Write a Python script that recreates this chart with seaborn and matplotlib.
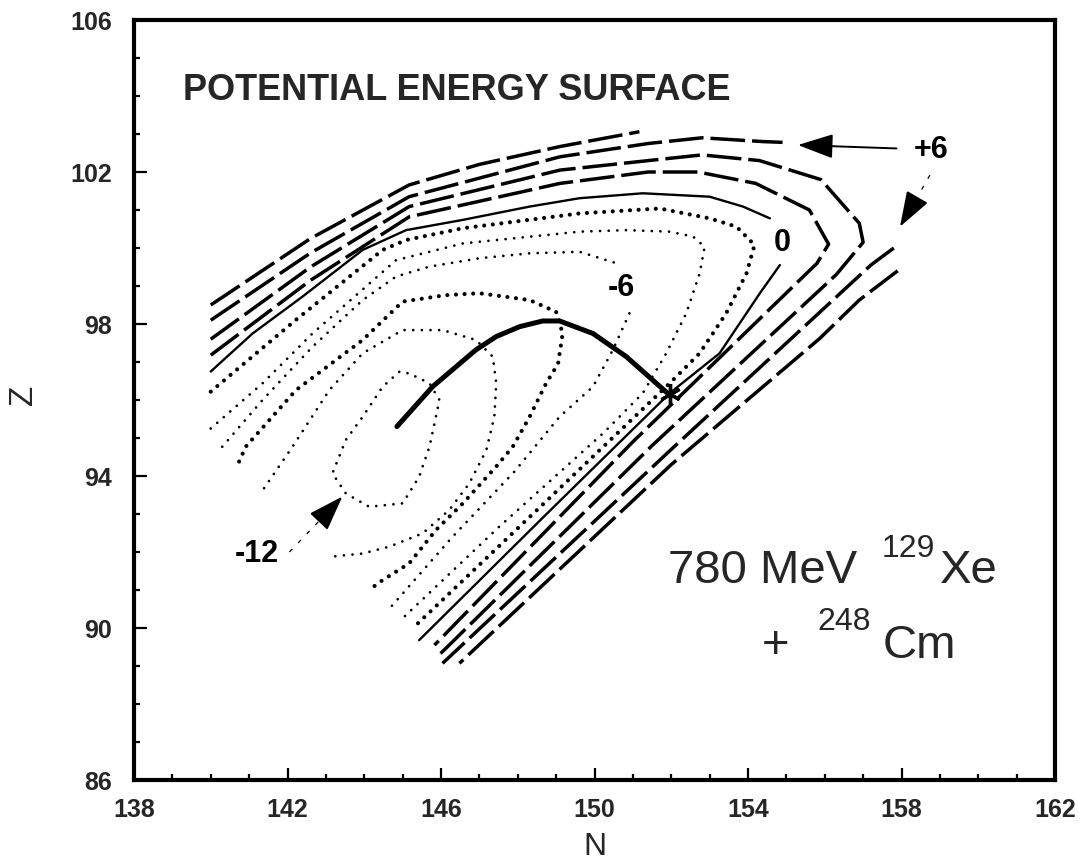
import matplotlib
matplotlib.use("Agg")
import matplotlib.pyplot as plt
import seaborn as sns
import pandas as pd

# ---------------- data (N, Z coordinates of contour lines, MeV levels)
levels = [-12, -10, -8, -6, -4, -2, 0, 2, 4, 6, 8]

n_m12 = [144.91, 144.48, 143.96, 143.52, 143.17, 143.52, 144.13, 145.00, 145.43, 145.70, 145.96, 145.70, 145.17, 144.91]
z_m12 = [96.74, 96.35, 95.56, 94.95, 94.07, 93.54, 93.19, 93.28, 93.98, 94.77, 96.00, 96.44, 96.70, 96.74]

n_m10 = [141.39, 142.13, 143.09, 143.96, 145.00, 146.04, 146.91, 147.35, 147.44, 147.39, 147.18, 146.74, 146.22, 145.52, 144.65, 143.96, 143.17]
z_m10 = [93.68, 94.77, 96.26, 97.23, 97.84, 97.84, 97.58, 97.14, 96.44, 95.56, 94.68, 93.81, 93.11, 92.49, 92.14, 91.96, 91.88]

n_m8 = [140.74, 140.91, 142.22, 143.96, 145.00, 146.13, 147.00, 148.31, 149.00, 149.17, 149.05, 148.74, 148.31, 147.87, 147.44, 146.57, 145.87, 145.17, 144.48, 144.18]
z_m8 = [94.38, 94.77, 96.26, 97.58, 98.59, 98.76, 98.81, 98.63, 98.32, 97.75, 96.95, 96.44, 95.56, 94.77, 94.25, 93.28, 92.58, 91.70, 91.26, 91.04]

n_m6a = [140.30, 141.35, 142.65, 143.96, 144.83, 145.70, 147.00, 148.31, 149.61, 150.57]
z_m6a = [94.77, 96.00, 97.40, 98.63, 99.25, 99.51, 99.73, 99.86, 99.90, 99.60]
n_m6b = [150.91, 150.48, 149.96, 149.09, 147.90, 146.30, 144.70]
z_m6b = [98.28, 97.32, 96.35, 95.56, 94.10, 92.40, 90.56]

n_m4 = [140.00, 141.35, 142.65, 144.83, 146.57, 149.61, 150.83, 151.96, 152.57, 152.87, 152.74, 152.39, 151.87, 151.26, 150.22, 147.50, 144.91]
z_m4 = [95.25, 96.44, 97.75, 99.68, 100.12, 100.43, 100.47, 100.43, 100.30, 100.03, 99.33, 98.28, 97.23, 96.18, 95.12, 92.65, 90.17]

n_m2 = [140.00, 142.22, 144.48, 145.09, 146.57, 149.61, 151.70, 153.00, 153.70, 154.17, 153.96, 153.43, 152.74, 151.96, 148.60, 145.26]
z_m2 = [96.22, 98.11, 99.95, 100.21, 100.52, 100.91, 101.04, 100.78, 100.56, 100.08, 99.33, 98.28, 97.23, 96.44, 93.20, 89.99]

n_0a = [140.00, 141.09, 142.39, 143.96, 145.09, 146.57, 148.31, 149.61, 151.26, 153.00, 153.87, 154.57]
z_0a = [96.75, 97.75, 98.72, 99.95, 100.47, 100.74, 101.09, 101.31, 101.44, 101.35, 101.09, 100.78]
n_0b = [154.83, 154.31, 153.26, 151.96, 148.70, 145.43]
z_0b = [99.55, 98.81, 97.23, 96.18, 92.95, 89.68]

n_p2 = [140.00, 142.60, 145.17, 149.10, 151.40, 152.70, 154.20, 155.60, 156.10, 155.80, 151.00, 145.83]
z_p2 = [97.18, 99.15, 100.82, 101.70, 102.00, 102.00, 101.70, 101.00, 100.10, 99.60, 94.90, 89.55]

n_p4 = [140.00, 142.60, 145.17, 149.10, 151.40, 152.80, 154.30, 155.90, 156.90, 157.00, 156.30, 151.50, 145.91]
z_p4 = [97.60, 99.50, 101.09, 102.05, 102.30, 102.45, 102.30, 101.80, 100.65, 100.15, 99.30, 94.80, 89.25]

n_p6a = [140.00, 142.60, 145.17, 149.10, 151.40, 152.80, 154.40, 154.90]
z_p6a = [98.10, 99.87, 101.35, 102.40, 102.75, 102.90, 102.80, 102.78]
n_p6b = [157.80, 157.20, 152.00, 146.04]
z_p6b = [100.00, 99.55, 94.70, 89.07]

n_p8a = [140.00, 142.60, 145.17, 147.00, 149.10, 150.00, 151.17]
z_p8a = [98.50, 100.25, 101.66, 102.20, 102.67, 102.84, 103.06]
n_p8b = [157.90, 156.90, 155.87, 152.00, 146.48]
z_p8b = [99.40, 98.63, 97.62, 94.30, 89.07]

# fission/quasi-fission trajectory and injection point
traj_n = [144.85, 145.78, 146.91, 147.44, 148.05, 148.65, 149.09, 149.96, 150.83, 151.61, 151.96]
traj_z = [95.30, 96.35, 97.32, 97.67, 97.93, 98.08, 98.08, 97.75, 97.14, 96.44, 96.13]
star_n = [151.96]
star_z = [96.15]

# contour labels: text, N, Z
label_txt = ["-12", "-6", "0", "+6"]
label_n = [141.19, 150.71, 154.90, 158.77]
label_z = [91.96, 98.95, 100.12, 102.59]

xticks = [138, 142, 146, 150, 154, 158, 162]
yticks = [86, 90, 94, 98, 102, 106]

# ---------------- assemble
contours = [
    (-12, n_m12, z_m12), (-10, n_m10, z_m10), (-8, n_m8, z_m8),
    (-6, n_m6a, z_m6a), (-6, n_m6b, z_m6b), (-4, n_m4, z_m4), (-2, n_m2, z_m2),
    (0, n_0a, z_0a), (0, n_0b, z_0b), (2, n_p2, z_p2), (4, n_p4, z_p4),
    (6, n_p6a, z_p6a), (6, n_p6b, z_p6b), (8, n_p8a, z_p8a), (8, n_p8b, z_p8b),
]
rows = []
for i, (lev, ns, zs) in enumerate(contours):
    for k, (n, z) in enumerate(zip(ns, zs)):
        rows.append(dict(N=n, Z=z, level=lev, piece=i, order=k))
df = pd.DataFrame(rows)

sns.set_theme(style="white")
plt.rcParams['font.family'] = ['Liberation Sans', 'DejaVu Sans']
plt.rcParams['lines.scale_dashes'] = False

W, H = 1082, 865
fig = plt.figure(figsize=(W / 100, H / 100), dpi=100)
L, R, T, B = 134, 1055, 20, 780
ax = fig.add_axes([L / W, (H - B) / H, (R - L) / W, (B - T) / H])


def style_for(lev):
    if lev < 0:
        if lev in (-2, -8):
            return dict(linewidth=3.0, linestyle=(0, (0.01, 6.2)), dash_capstyle='round')
        return dict(linewidth=2.0, linestyle=(0, (0.01, 6.2)), dash_capstyle='round')
    if lev == 0:
        return dict(linewidth=1.7, linestyle='-')
    return dict(linewidth=2.5, linestyle=(0, (25, 5)), dash_capstyle='butt')


for pid, sub in df.groupby("piece"):
    lev = sub["level"].iloc[0]
    sns.lineplot(data=sub, x="N", y="Z", sort=False, estimator=None, ax=ax,
                 color="black", legend=False, **style_for(lev))

# trajectory
sns.lineplot(x=traj_n, y=traj_z, sort=False, estimator=None, ax=ax, color="black",
             linewidth=3.6, solid_capstyle='round', legend=False)
sns.lineplot(x=star_n, y=star_z, ax=ax, marker=(6, 2, 0), markersize=15, mec="black",
             mew=2.4, linestyle='', color="black", legend=False)

# contour labels
for t, n, z in zip(label_txt, label_n, label_z):
    ax.text(n, z, t, fontsize=22, fontweight='bold', ha='center', va='center', color='black')

# arrows
hp = dict(arrowstyle='-|>,head_length=1.1,head_width=0.38', color='black', lw=1.4,
          shrinkA=0, shrinkB=0, mutation_scale=20)
ax.annotate('', xy=(155.30, 102.71), xytext=(157.87, 102.62), arrowprops=hp)
ax.annotate('', xy=(157.96, 100.56), xytext=(158.30, 101.15), arrowprops=hp)
ax.annotate('', xy=(143.43, 93.46), xytext=(143.00, 93.00), arrowprops=hp)
ax.plot([158.74, 158.42], [101.92, 101.35], color='black', lw=0.9, ls=(0, (3, 6)))
ax.plot([142.05, 143.0], [92.0, 93.0], color='black', lw=0.9, ls=(0, (3, 6)))

# texts
ax.text(139.28, 103.9, "POTENTIAL ENERGY SURFACE", fontsize=26, fontweight='bold',
        ha='left', va='baseline')
ax.text(151.92, 91.18, "780 MeV", fontsize=34, ha='left', va='baseline')
ax.text(157.49, 91.87, "129", fontsize=23, ha='left', va='baseline')
ax.text(159.00, 91.18, "Xe", fontsize=34, ha='left', va='baseline')
ax.text(154.37, 89.21, "+", fontsize=34, ha='left', va='baseline')
ax.text(155.80, 89.95, "248", fontsize=23, ha='left', va='baseline')
ax.text(157.52, 89.21, "Cm", fontsize=34, ha='left', va='baseline')

# axes
ax.set_xlim(138, 162)
ax.set_ylim(86, 106)
ax.set_xticks(xticks)
ax.set_yticks(yticks)
ax.set_xticks(range(138, 163), minor=True)
ax.set_yticks(range(86, 107), minor=True)
ax.set_xticklabels([str(v) for v in xticks], fontweight='bold', fontsize=18)
ax.set_yticklabels([str(v) for v in yticks], fontweight='bold', fontsize=18)
ax.tick_params(which='both', direction='in', top=False, right=False, color='black',
               width=1.6, bottom=True, left=True)
ax.tick_params(which='major', length=9)
ax.tick_params(which='minor', length=4)
ax.tick_params(axis='x', which='major', pad=13)
ax.tick_params(axis='y', which='major', pad=16)
ax.grid(False)
for s in ax.spines.values():
    s.set_color('black')
    s.set_linewidth(3.0)

ax.set_xlabel("N", fontsize=23)
ax.set_ylabel("Z", fontsize=24)
ax.xaxis.set_label_coords(0.5, -0.068)
ax.yaxis.set_label_coords(-0.103, 0.507)

fig.savefig("out.png", dpi=100)
